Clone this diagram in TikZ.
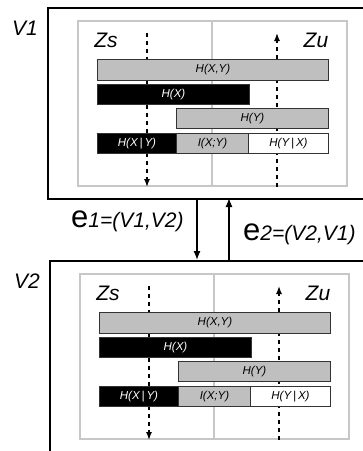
\documentclass[tikz,border=0pt]{standalone}
\usepackage{fontspec}
\setmainfont{Liberation Sans}
\usetikzlibrary{arrows.meta}
\tikzset{
  outerbox/.style={draw=black, line width=1.8pt, inner sep=0pt},
  innerbox/.style={draw=black!22, line width=1.8pt, inner sep=0pt},
  divider/.style={draw=black!22, line width=1.5pt},
  bar/.style={draw=black!80, line width=0.9pt, inner sep=0pt, font=\fontsize{11.5}{13}\selectfont\itshape},
  graybar/.style={bar, fill=black!25},
  blackbar/.style={bar, fill=black, text=white},
  whitebar/.style={bar, fill=white},
  lbl/.style={font=\fontsize{21}{24}\selectfont\itshape, inner sep=0pt},
  dasharrow/.style={dash pattern=on 4pt off 4pt, line width=1.4pt, -{Latex[length=8pt,width=6pt]}},
  linkarrow/.style={line width=1.3pt, -{Latex[length=9pt,width=7pt]}},
}
% #1 name, #2 style, #3 x1, #4 y1, #5 width, #6 height, #7 text
\newcommand\mybar[7]{\node[#2, minimum width=#5pt, minimum height=#6pt, anchor=north west] (#1) at (#3,#4) {#7};}
% #1 prefix
\newcommand\mypanel[1]{%
  \node[innerbox, minimum width=269pt, minimum height=165pt, anchor=north west] (#1inner) at (77,20) {};
  \coordinate (#1divtop) at (212,20);
  \coordinate (#1divbot) at (212,185);
  \draw[divider] (#1divtop) -- (#1divbot);
  \node[lbl] (#1zs) at (106,40) {Zs};
  \node[lbl] (#1zu) at (316,40) {Zu};
  \coordinate (#1ls) at (147,33);
  \coordinate (#1le) at (147,187);
  \coordinate (#1rs) at (277,187);
  \coordinate (#1re) at (277,33);
  \draw[dasharrow] (#1ls) -- (#1le);
  \draw[dasharrow] (#1rs) -- (#1re);
  \mybar{#1hxy}{graybar}{97}{59}{231}{21}{H(X,Y)}
  \mybar{#1hx}{blackbar}{97}{84}{152}{20}{H(X)}
  \mybar{#1hy}{graybar}{176}{108}{152}{19.5}{H(Y)}
  \mybar{#1hxgy}{blackbar}{97}{133}{79}{20}{H(X\,|\,Y)}
  \mybar{#1ixy}{graybar}{176}{133}{72}{20}{I(X;Y)}
  \mybar{#1hygx}{whitebar}{248}{133}{80}{20}{H(Y\,|\,X)}
}
\begin{document}
\begin{tikzpicture}[x=1pt,y=-1pt]
\useasboundingbox (0,0) rectangle (363,451);
\clip (0,0) rectangle (363,451);
\fill[white] (0,0) rectangle (363,451);
% outer boxes
\node[outerbox, minimum width=330pt, minimum height=191pt, anchor=north west] (v1box) at (47,7) {};
\node[outerbox, minimum width=330pt, minimum height=220pt, anchor=north west] (v2box) at (49,260) {};
\node[lbl] (v1) at (25,28) {V1};
\node[lbl] (v2) at (27,281) {V2};
\mypanel{a}
\begin{scope}[shift={(2,253)}]
\mypanel{b}
\end{scope}
% links
\coordinate (e1s) at (197,198);
\coordinate (e1t) at (197,260);
\coordinate (e2s) at (229,260);
\coordinate (e2t) at (229,198);
\draw[linkarrow] (e1s) -- (e1t);
\draw[linkarrow] (e2s) -- (e2t);
\node[lbl, anchor=base west] (e1) at (71,227) {{\fontsize{31}{31}\selectfont\upshape e}1=(V1,V2)};
\node[lbl, anchor=base west] (e2) at (243,240) {{\fontsize{31}{31}\selectfont\upshape e}2=(V2,V1)};
\end{tikzpicture}
\end{document}
